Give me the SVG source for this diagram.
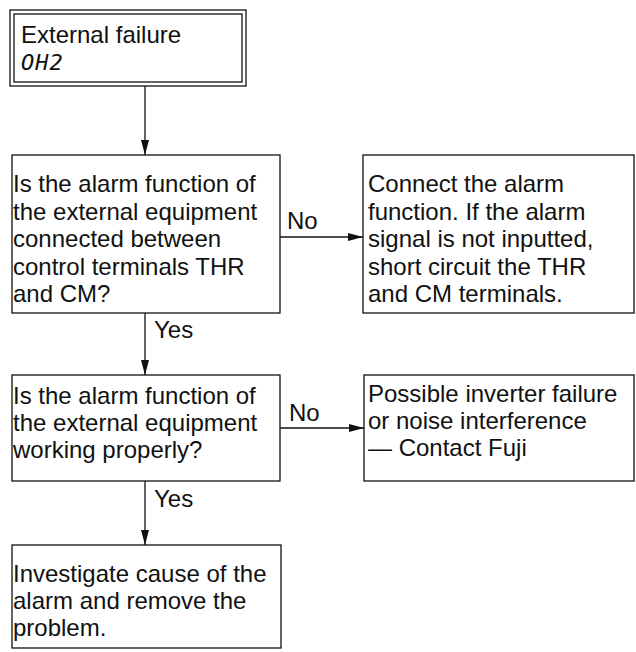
<svg xmlns="http://www.w3.org/2000/svg" width="636" height="652" viewBox="0 0 636 652">
<defs>
<marker id="ah" markerWidth="16" markerHeight="10" refX="15" refY="5" orient="auto" markerUnits="userSpaceOnUse">
<path d="M0,1 L15,5 L0,9 Z" fill="#111"/>
</marker>
<style>
.box{fill:#fff;stroke:#111;stroke-width:1.3}
.t{font-family:"Liberation Sans",Arial,Helvetica,sans-serif;font-size:24px;fill:#111}
.lbl{font-family:"Liberation Sans",Arial,Helvetica,sans-serif;font-size:24px;fill:#111}
.code{font-family:"DejaVu Sans Mono","Liberation Mono",monospace;font-size:22px;font-style:italic;fill:#111;letter-spacing:1px}
.c{fill:none;stroke:#111;stroke-width:1.3}
</style>
</defs>
<rect width="636" height="652" fill="#fff"/>
<g id="connectors">
<line class="c" x1="145" y1="86" x2="145" y2="155" marker-end="url(#ah)"/>
<line class="c" x1="280" y1="237" x2="363" y2="237" marker-end="url(#ah)"/>
<line class="c" x1="145" y1="313" x2="145" y2="375" marker-end="url(#ah)"/>
<line class="c" x1="280" y1="428" x2="364" y2="428" marker-end="url(#ah)"/>
<line class="c" x1="145" y1="481" x2="145" y2="545" marker-end="url(#ah)"/>
<text class="lbl" x="287" y="229">No</text>
<text class="lbl" x="154" y="338">Yes</text>
<text class="lbl" x="289" y="421">No</text>
<text class="lbl" x="154" y="507">Yes</text>
</g>
<g id="n1">
<rect class="box" x="10" y="10" width="236" height="76"/>
<rect class="box" x="14" y="14" width="228" height="68"/>
<text class="t" x="21" y="43">External failure</text>
<text class="code" x="21" y="70">OH2</text>
</g>
<g id="n2">
<rect class="box" x="12" y="155" width="268" height="158"/>
<text class="t" x="13" y="192">Is the alarm function of</text>
<text class="t" x="13" y="219.5">the external equipment</text>
<text class="t" x="13" y="247">connected between</text>
<text class="t" x="13" y="274.5">control terminals THR</text>
<text class="t" x="13" y="302">and CM?</text>
</g>
<g id="n3">
<rect class="box" x="363" y="155" width="271" height="158"/>
<text class="t" x="368" y="192">Connect the alarm</text>
<text class="t" x="368" y="219.5">function. If the alarm</text>
<text class="t" x="368" y="247">signal is not inputted,</text>
<text class="t" x="368" y="274.5">short circuit the THR</text>
<text class="t" x="368" y="302">and CM terminals.</text>
</g>
<g id="n4">
<rect class="box" x="12" y="375" width="268" height="106"/>
<text class="t" x="13" y="404">Is the alarm function of</text>
<text class="t" x="13" y="431">the external equipment</text>
<text class="t" x="13" y="458">working properly?</text>
</g>
<g id="n5">
<rect class="box" x="364" y="375" width="270" height="106"/>
<text class="t" x="368" y="402">Possible inverter failure</text>
<text class="t" x="368" y="429">or noise interference</text>
<text class="t" x="368" y="456">— Contact Fuji</text>
</g>
<g id="n6">
<rect class="box" x="12" y="545" width="269" height="103"/>
<text class="t" x="13" y="582">Investigate cause of the</text>
<text class="t" x="13" y="609">alarm and remove the</text>
<text class="t" x="13" y="636">problem.</text>
</g>
</svg>
